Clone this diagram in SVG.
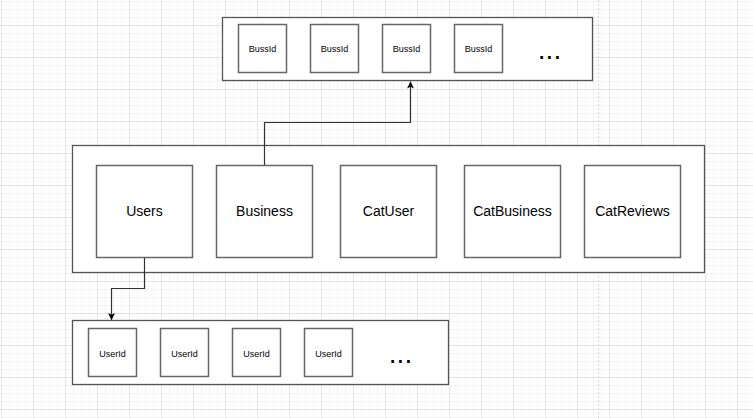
<svg xmlns="http://www.w3.org/2000/svg" width="753" height="418" viewBox="0 0 753 418">
  <defs>
    <pattern id="grid" patternUnits="userSpaceOnUse" x="1" y="25" width="32" height="32">
      <path d="M8.5 0V32M16.5 0V32M24.5 0V32M0 8.5H32M0 16.5H32M0 24.5H32" stroke="#f3f3f3" stroke-width="1" fill="none"/>
      <path d="M0.5 0V32M0 0.5H32" stroke="#e4e4e4" stroke-width="1" fill="none"/>
    </pattern>
    <marker id="arrow" markerWidth="8" markerHeight="8" refX="7" refY="4" orient="auto" markerUnits="userSpaceOnUse">
      <path d="M0,0.5 L7,4 L0,7.5 L1.8,4 Z" fill="#000"/>
    </marker>
  </defs>
  <style>
    .container { fill: #fff; stroke: #555; stroke-width: 1.3; }
    .box { fill: #fff; stroke: #666; stroke-width: 1.5; }
    .big { font-family: "Liberation Sans", Arial, sans-serif; font-size: 14px; fill: #000; text-anchor: middle; }
    .small { font-family: "Liberation Sans", Arial, sans-serif; font-size: 9px; fill: #000; text-anchor: middle; }
    .dots { font-family: "Liberation Sans", Arial, sans-serif; font-size: 28px; fill: #000; text-anchor: middle; }
    .edge { fill: none; stroke: #333; stroke-width: 1.2; }
  </style>
  <rect width="753" height="418" fill="#fff"/>
  <rect width="753" height="418" fill="url(#grid)"/>
  <line x1="598.5" y1="0" x2="598.5" y2="418" stroke="#d8d8d8" stroke-width="1" stroke-dasharray="2,2"/>

  <g id="bussids">
    <rect class="container" x="222.5" y="17.5" width="370" height="63"/>
    <g id="bussid1"><rect class="box" x="238.5" y="24.5" width="48" height="48"/><text class="small" x="262.5" y="52">BussId</text></g>
    <g id="bussid2"><rect class="box" x="310.5" y="24.5" width="48" height="48"/><text class="small" x="334.5" y="52">BussId</text></g>
    <g id="bussid3"><rect class="box" x="382.5" y="24.5" width="48" height="48"/><text class="small" x="406.5" y="52">BussId</text></g>
    <g id="bussid4"><rect class="box" x="454.5" y="24.5" width="48" height="48"/><text class="small" x="478.5" y="52">BussId</text></g>
    <text class="dots" x="549.5" y="58.5">...</text>
  </g>

  <g id="tables">
    <rect class="container" x="72.5" y="145.5" width="632" height="127"/>
    <g id="users"><rect class="box" x="96.5" y="165.5" width="96" height="92"/><text class="big" x="144.5" y="216">Users</text></g>
    <g id="business"><rect class="box" x="216.5" y="165.5" width="96" height="92"/><text class="big" x="264.5" y="216">Business</text></g>
    <g id="catuser"><rect class="box" x="340.5" y="165.5" width="96" height="92"/><text class="big" x="388.5" y="216">CatUser</text></g>
    <g id="catbusiness"><rect class="box" x="464.5" y="165.5" width="96" height="92"/><text class="big" x="512.5" y="216">CatBusiness</text></g>
    <g id="catreviews"><rect class="box" x="584.5" y="165.5" width="96" height="92"/><text class="big" x="632.5" y="216">CatReviews</text></g>
  </g>

  <g id="userids">
    <rect class="container" x="72.5" y="320.5" width="376" height="64"/>
    <g id="userid1"><rect class="box" x="88.5" y="328.5" width="48" height="48"/><text class="small" x="112.5" y="357">UserId</text></g>
    <g id="userid2"><rect class="box" x="160.5" y="328.5" width="48" height="48"/><text class="small" x="184.5" y="357">UserId</text></g>
    <g id="userid3"><rect class="box" x="232.5" y="328.5" width="48" height="48"/><text class="small" x="256.5" y="357">UserId</text></g>
    <g id="userid4"><rect class="box" x="304.5" y="328.5" width="48" height="48"/><text class="small" x="328.5" y="357">UserId</text></g>
    <text class="dots" x="400.5" y="363">...</text>
  </g>

  <g id="connectors">
    <path class="edge" d="M264.5,165 V122.5 H410.5 V81.5" marker-end="url(#arrow)"/>
    <path class="edge" d="M144.5,258 V288.5 H111.5 V320" marker-end="url(#arrow)"/>
  </g>
</svg>
